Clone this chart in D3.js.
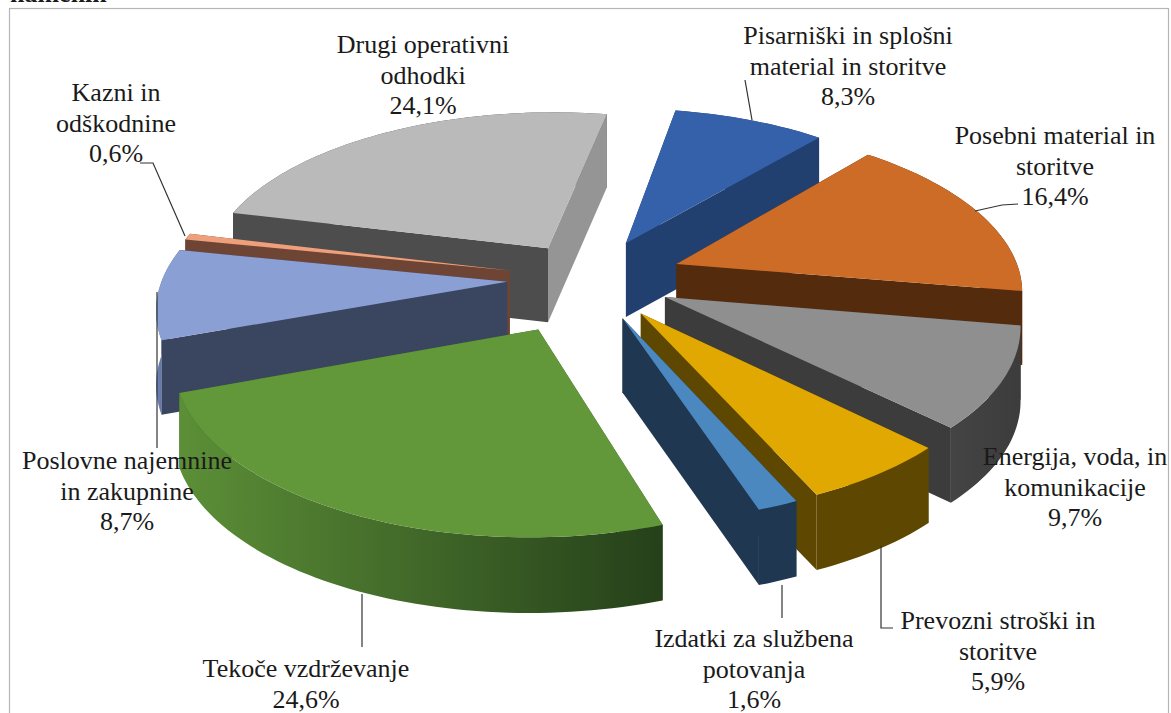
<!DOCTYPE html>
<html lang="sl">
<head>
<meta charset="UTF-8">
<title>Struktura odhodkov</title>
<script src="https://d3js.org/d3.v7.min.js"></script>
<style>
html,body{margin:0;padding:0;background:#fff;overflow:hidden;}
text{font-family:"Liberation Serif","Times New Roman",serif;fill:#1a1a1a;}
</style>
</head>
<body>
<svg id="chart" width="1171" height="713"></svg>
<script>
// podatki
var categories=["Pisarniški in splošni|material in storitve","Posebni material in|storitve","Energija, voda, in|komunikacije","Prevozni stroški in|storitve","Izdatki za službena|potovanja","Tekoče vzdrževanje","Poslovne najemnine|in zakupnine","Kazni in|odškodnine","Drugi operativni|odhodki"];
var values=[8.3,16.4,9.7,5.9,1.6,24.6,8.7,0.6,24.1];
var explodes=[0.25,0.27,0.24,0.25,0.25,0.33,0.24,0.24,0.23];
var topColors=["#3561ab","#cc6c27","#8f8f8f","#e0a800","#4c88c0","#62973a","#8a9fd4","#ee9f7b","#bababa"];
var startWallColors=["#21406f","#552b0e","#3c3c3c","#5e4700","#1f3750","#3a6024","#3a4560","#6e4534","#4d4d4d"];
var endWallColors=["#21406f","#552b0e","#3c3c3c","#5e4700","#1f3750","#3a6024","#3a4560","#6e4534","#959595"];
var arcWallFrom=["#21406f","#552b0e","#444444","#5e4700","#1f3750","#5c8f37","#6f84bd","#6e4534","#4d4d4d"];
var arcWallTo=["#21406f","#552b0e","#3c3c3c","#5e4700","#1f3750","#25401a","#3a4560","#6e4534","#4d4d4d"];

// položaj napisov (x sredine, y prve vrstice)
var labelPos=[[848,44],[1055,144],[1075,465],[998,629],[754,647],[306,677],[127,469],[116,101],[423,53]];
// črte do napisov
var leaders=[
 [[745,80],[752,120]],
 [[975,211],[1002,205],[1018,204]],
 [],
 [[881,546],[881,628],[893,628]],
 [[782,585],[782,618]],
 [[362,594],[362,647]],
 [[157,292],[157,448]],
 [[140,163],[153,163],[185,236]],
 []
];

var width=1171,height=713;
var cx=590,cy=279,R=345,a=163,p=0.14,depth=74;
var startA=10.5*Math.PI/180;

var svg=d3.select("#chart");

// perspektiva: tocka na ravnini torte -> zaslon
function project(X,Y,z){
    var s=1/(1-p*Y);
    return [cx+R*X*s, cy+a*Y*s+depth*z*(0.9+0.1*s)];
}

var pie=d3.pie().sort(null).startAngle(startA).endAngle(startA+2*Math.PI);
var arcs=pie(values);
var line=d3.line();

function pointOf(d,r,ang,z){
    var mid=(d.startAngle+d.endAngle)/2,e=explodes[d.index];
    var ox=e*Math.sin(mid),oy=-e*Math.cos(mid);
    return project(ox+r*Math.sin(ang),oy-r*Math.cos(ang),z);
}
function arcPts(d,z,rev){
    var n=Math.max(4,Math.round((d.endAngle-d.startAngle)*40));
    var pts=d3.range(n+1).map(function(i){
        return pointOf(d,1,d.startAngle+(d.endAngle-d.startAngle)*i/n,z);
    });
    return rev?pts.reverse():pts;
}
// ali je radialna stena obrnjena proti gledalcu
function facesViewer(o,P,Q){
    var c=(P[0]-o[0])*(Q[1]-o[1])-(P[1]-o[1])*(Q[0]-o[0]);
    var down=(P[0]-o[0]);
    return (c>0)!==(down>0);
}

// okvir
svg.append("rect").attr("x",9.5).attr("y",8.5).attr("width",1159).attr("height",720)
    .attr("fill","#fff").attr("stroke","#b5b5b5").attr("stroke-width",1.2);
svg.append("text").attr("x",10).attr("y",2).attr("font-size",26).attr("font-weight","bold").attr("fill","#000").text("namenih");

var defs=svg.append("defs");
arcs.forEach(function(d,i){
    var g=defs.append("linearGradient").attr("id","wall"+i).attr("gradientUnits","userSpaceOnUse");
    var pts=arcPts(d,0);
    g.attr("x1",d3.min(pts,function(q){return q[0];})).attr("x2",d3.max(pts,function(q){return q[0];})).attr("y1",0).attr("y2",0);
    g.append("stop").attr("offset",0).attr("stop-color",arcWallFrom[i]);
    g.append("stop").attr("offset",1).attr("stop-color",arcWallTo[i]);
});

var order=d3.range(arcs.length).sort(function(m,n){
    var ma=(arcs[m].startAngle+arcs[m].endAngle)/2,na=(arcs[n].startAngle+arcs[n].endAngle)/2;
    return d3.ascending(-Math.cos(ma),-Math.cos(na));
});

var slices=svg.selectAll("g.slice").data(order).join("g").attr("class","slice");
slices.each(function(i){
    var d=arcs[i],g=d3.select(this);
    var a0=pointOf(d,0,0,0),a1=pointOf(d,0,0,1);
    var s0=pointOf(d,1,d.startAngle,0),s1=pointOf(d,1,d.startAngle,1);
    var e0=pointOf(d,1,d.endAngle,0),e1=pointOf(d,1,d.endAngle,1);
    var walls=[
        {pts:[a0,s0,s1,a1],fill:startWallColors[i],front:facesViewer(a0,s0,e0)},
        {pts:[a0,e0,e1,a1],fill:endWallColors[i],front:facesViewer(a0,e0,s0)}
    ];
    function drawWalls(front){
        walls.filter(function(w){return w.front===front;}).forEach(function(w){
            g.append("path").attr("d",line(w.pts)+"Z").attr("fill",w.fill);
        });
    }
    drawWalls(false);
    g.append("path").attr("d",line(arcPts(d,0).concat(arcPts(d,1,true)))+"Z").attr("fill","url(#wall"+i+")");
    drawWalls(true);
    g.append("path").attr("d",line([a0].concat(arcPts(d,0)))+"Z").attr("fill",topColors[i]);
});

// crte
svg.selectAll("path.leader").data(leaders.filter(function(l){return l.length;})).join("path")
    .attr("class","leader").attr("d",function(l){return line(l);})
    .attr("fill","none").attr("stroke","#333").attr("stroke-width",1.2);

// napisi
var fmt=function(v){return d3.format(".1f")(v).replace(".",",")+"%";};
categories.forEach(function(c,i){
    var rows=c.split("|").concat(fmt(values[i]));
    var t=svg.append("text").attr("text-anchor","middle").attr("font-size",26);
    rows.forEach(function(r,k){
        t.append("tspan").attr("x",labelPos[i][0]).attr("y",labelPos[i][1]+k*30.5).text(r);
    });
});
</script>
</body>
</html>
